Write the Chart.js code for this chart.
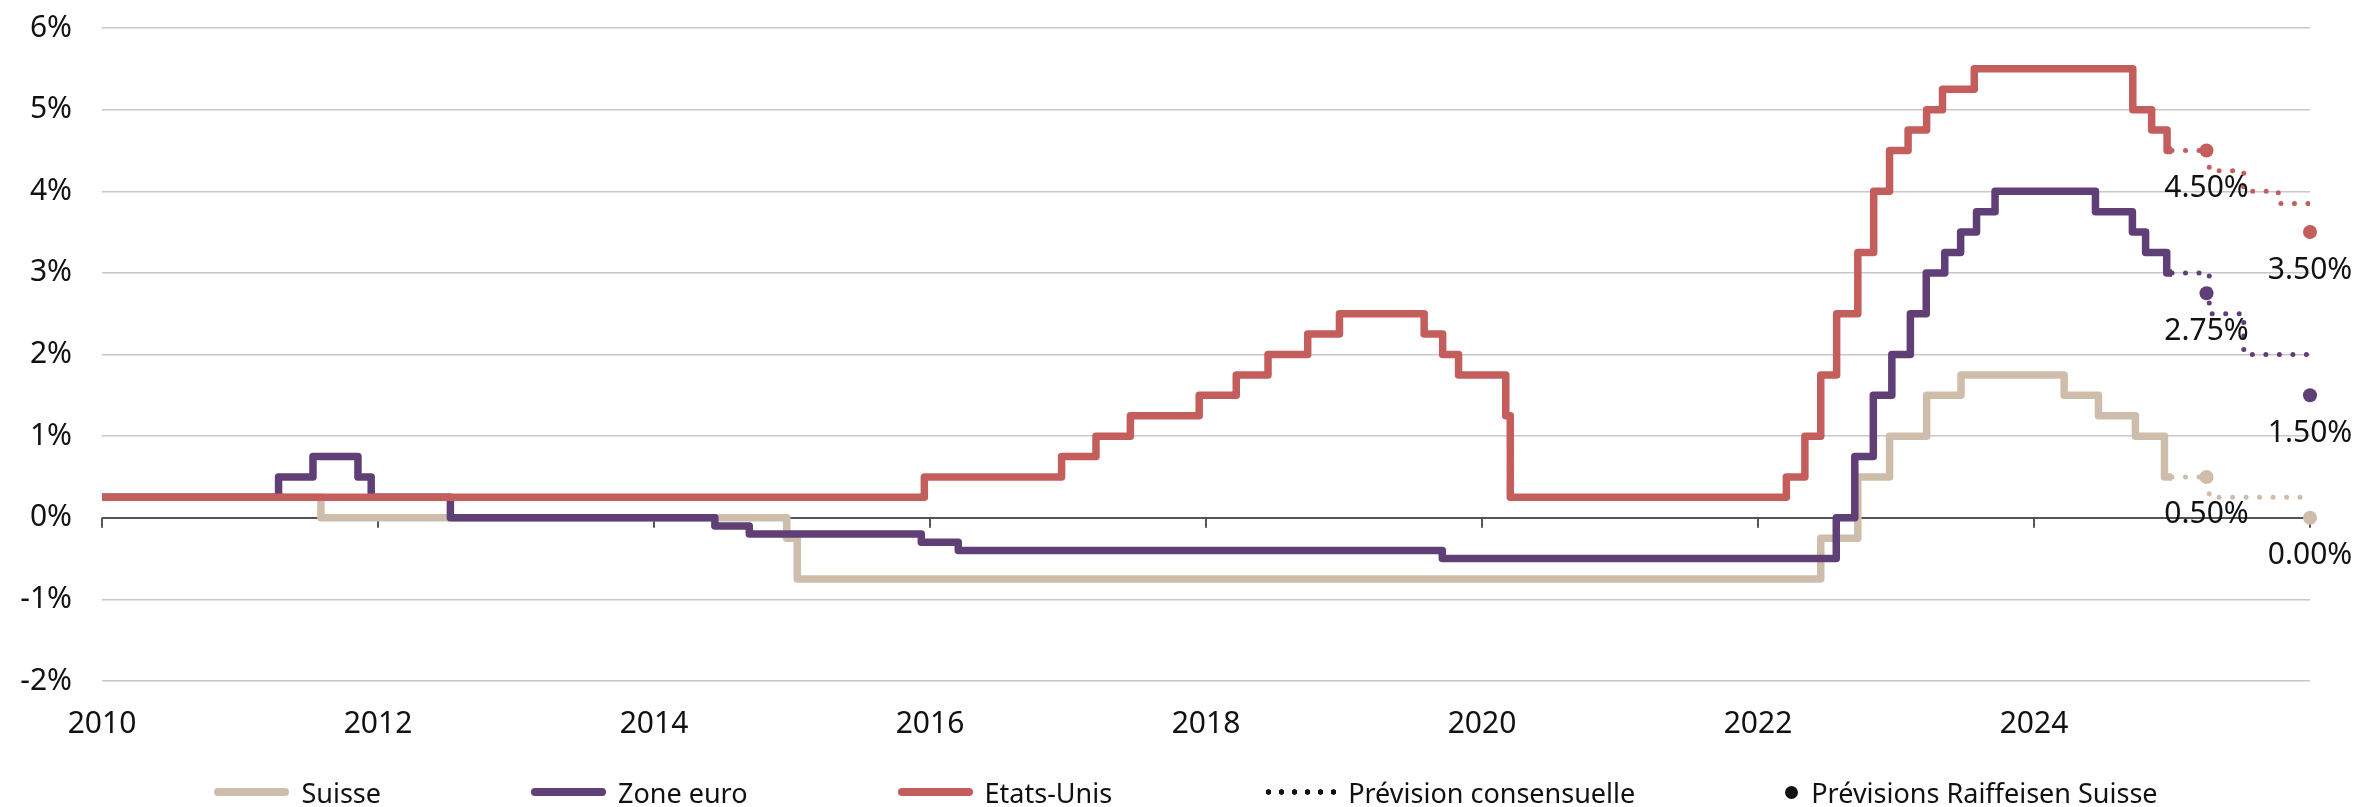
<!DOCTYPE html>
<html>
<head>
<meta charset="utf-8">
<script src="https://cdn.jsdelivr.net/npm/chart.js@4.4.1/dist/chart.umd.min.js"></script>
<style>
  html, body { margin: 0; padding: 0; background: #fff; }
  #wrap { position: relative; width: 2356px; height: 807px; }
  #legend {
    position: absolute; left: 0; top: 772px; width: 2356px; height: 40px;
    box-sizing: border-box; padding-left: 16px;
    display: flex; justify-content: center; align-items: center; gap: 150px;
    font-family: "Noto Sans"; font-size: 27px; color: #111;
  }
  .item { display: flex; align-items: center; white-space: nowrap; }
  .swatch { width: 75px; height: 8px; border-radius: 4px; margin-right: 12px; }
  .dots { width: 78px; height: 6px; margin-right: 8px;
          background: radial-gradient(circle, #111 2.5px, transparent 3px) 0 0 / 13px 6px repeat-x; }
  .dot { width: 13px; height: 13px; border-radius: 50%; background: #111; margin-right: 13px; }
</style>
</head>
<body>
<div id="wrap">
  <canvas id="chart" width="2356" height="807"></canvas>
  <div id="legend"></div>
</div>
<script>
// Series names + colours
const seriesNames = ["Suisse", "Zone euro", "Etats-Unis"]
const seriesColors = ["#cfbdac", "#5f3f75", "#c35e5c"]
const legendExtra = ["Prévision consensuelle", "Prévisions Raiffeisen Suisse"]

// Policy rates (step changes, value holds until next date)
const suisseDates = ["2010-01-01", "2011-08-03", "2014-12-18", "2015-01-15", "2022-06-16", "2022-09-22",
  "2022-12-15", "2023-03-23", "2023-06-22", "2024-03-21", "2024-06-20", "2024-09-26", "2024-12-12", "2025-01-01"]
const suisseRates = [0.25, 0.00, -0.25, -0.75, -0.25, 0.50, 1.00, 1.50, 1.75, 1.50, 1.25, 1.00, 0.50, 0.50]

const euroDates = ["2010-01-01", "2011-04-13", "2011-07-13", "2011-11-09", "2011-12-14", "2012-07-11",
  "2014-06-11", "2014-09-10", "2015-12-09", "2016-03-16", "2019-09-18", "2022-07-27", "2022-09-14",
  "2022-11-02", "2022-12-21", "2023-02-08", "2023-03-22", "2023-05-10", "2023-06-21", "2023-08-02",
  "2023-09-20", "2024-06-12", "2024-09-18", "2024-10-23", "2024-12-18", "2025-01-01"]
const euroRates = [0.25, 0.50, 0.75, 0.50, 0.25, 0.00, -0.10, -0.20, -0.30, -0.40, -0.50, 0.00, 0.75,
  1.50, 2.00, 2.50, 3.00, 3.25, 3.50, 3.75, 4.00, 3.75, 3.50, 3.25, 3.00, 3.00]

const usDates = ["2010-01-01", "2015-12-17", "2016-12-15", "2017-03-16", "2017-06-15", "2017-12-14",
  "2018-03-22", "2018-06-14", "2018-09-27", "2018-12-20", "2019-08-01", "2019-09-19", "2019-10-31",
  "2020-03-04", "2020-03-16", "2022-03-17", "2022-05-05", "2022-06-16", "2022-07-28", "2022-09-22",
  "2022-11-03", "2022-12-15", "2023-02-02", "2023-03-23", "2023-05-04", "2023-07-27", "2024-09-19",
  "2024-11-08", "2024-12-19", "2025-01-01"]
const usRates = [0.25, 0.50, 0.75, 1.00, 1.25, 1.50, 1.75, 2.00, 2.25, 2.50, 2.25, 2.00, 1.75,
  1.25, 0.25, 0.50, 1.00, 1.75, 2.50, 3.25, 4.00, 4.50, 4.75, 5.00, 5.25, 5.50, 5.00, 4.75, 4.50, 4.50]

// Consensus forecasts (decimal years)
const suisseConsYears = [2025.0, 2025.27, 2026.0]
const suisseCons = [0.50, 0.25, 0.25]
const euroConsYears = [2025.0, 2025.27, 2025.52, 2026.0]
const euroCons = [3.00, 2.50, 2.00, 2.00]
const usConsYears = [2025.0, 2025.27, 2025.52, 2025.77, 2026.0]
const usCons = [4.50, 4.25, 4.00, 3.85, 3.85]

// Raiffeisen forecasts
const raifYears = [2025.25, 2026.0]
const suisseRaif = [0.50, 0.00]
const euroRaif = [2.75, 1.50]
const usRaif = [4.50, 3.50]

// Axis ticks
const yearTicks = [2010, 2012, 2014, 2016, 2018, 2020, 2022, 2024]

const toYear = d => {
  const t = new Date(d + "T00:00:00Z")
  const y = t.getUTCFullYear()
  const start = Date.UTC(y, 0, 1), end = Date.UTC(y + 1, 0, 1)
  return y + (t - start) / (end - start)
}
const pts = (xs, ys) => xs.map((x, i) => ({ x: typeof x === "number" ? x : toYear(x), y: ys[i] }))

const histLine = (i, data, order) => ({
  label: seriesNames[i], data, order,
  borderColor: seriesColors[i], borderWidth: 7.5, stepped: true,
  borderJoinStyle: "round", pointRadius: 0
})
const consLine = (i, data) => ({
  label: seriesNames[i] + " consensus", data, order: 1,
  borderColor: seriesColors[i], borderWidth: 5, stepped: true,
  borderDash: [0, 13.5], borderCapStyle: "round", pointRadius: 0
})
const raifPoints = (i, data) => ({
  label: seriesNames[i] + " Raiffeisen", data, order: 0, isForecast: true,
  showLine: false, pointRadius: 7, pointBackgroundColor: seriesColors[i],
  pointBorderWidth: 0, clip: false
})

// Tick marks on the 0% axis line
const zeroAxisTicks = {
  id: "zeroAxisTicks",
  beforeDatasetsDraw(chart) {
    const { ctx, scales: { x, y } } = chart
    const y0 = y.getPixelForValue(0)
    ctx.save()
    ctx.strokeStyle = "#555"
    ctx.lineWidth = 2
    x.ticks.forEach(t => {
      const px = x.getPixelForValue(t.value)
      ctx.beginPath()
      ctx.moveTo(px, y0)
      ctx.lineTo(px, y0 + 10)
      ctx.stroke()
    })
    ctx.restore()
  }
}

// Value labels under the Raiffeisen dots
const forecastLabels = {
  id: "forecastLabels",
  afterDatasetsDraw(chart) {
    const { ctx } = chart
    ctx.save()
    ctx.font = '30px "Noto Sans"'
    ctx.fillStyle = "#111"
    ctx.textAlign = "center"
    ctx.textBaseline = "middle"
    chart.data.datasets.forEach((ds, i) => {
      if (!ds.isForecast) return
      chart.getDatasetMeta(i).data.forEach((pt, j) => {
        ctx.fillText(ds.data[j].y.toFixed(2) + "%", pt.x, pt.y + 38)
      })
    })
    ctx.restore()
  }
}

Chart.defaults.font.family = '"Noto Sans"'
Chart.defaults.color = "#111"

new Chart(document.getElementById("chart"), {
  type: "line",
  data: {
    datasets: [
      histLine(0, pts(suisseDates, suisseRates), 4),
      histLine(1, pts(euroDates, euroRates), 3),
      histLine(2, pts(usDates, usRates), 2),
      consLine(0, pts(suisseConsYears, suisseCons)),
      consLine(1, pts(euroConsYears, euroCons)),
      consLine(2, pts(usConsYears, usCons)),
      raifPoints(0, pts(raifYears, suisseRaif)),
      raifPoints(1, pts(raifYears, euroRaif)),
      raifPoints(2, pts(raifYears, usRaif))
    ]
  },
  options: {
    responsive: false,
    animation: false,
    layout: { padding: { top: 28, right: 46, bottom: 40, left: 0 } },
    plugins: { legend: { display: false }, tooltip: { enabled: false } },
    scales: {
      x: {
        type: "linear", min: 2010, max: 2026,
        grid: { display: false, drawTicks: false },
        border: { display: false },
        afterBuildTicks: s => { s.ticks = yearTicks.concat([2026]).map(v => ({ value: v })) },
        ticks: {
          padding: 25, autoSkip: false, maxRotation: 0,
          font: { size: 30 },
          callback: v => yearTicks.includes(v) ? String(v) : ""
        }
      },
      y: {
        min: -2, max: 6,
        afterFit: s => { s.width = 102; s.paddingTop = 0; s.paddingBottom = 0 },
        border: { display: false },
        grid: {
          drawTicks: false,
          color: c => c.tick.value === 0 ? "#555" : "#c8c8c8",
          lineWidth: c => c.tick.value === 0 ? 2 : 1.5
        },
        ticks: { stepSize: 1, padding: 30, font: { size: 30 }, callback: v => v + "%" }
      }
    }
  },
  plugins: [zeroAxisTicks, forecastLabels]
})

// Legend
const legend = document.getElementById("legend")
const addItem = (markClass, color, text) => {
  const item = document.createElement("div")
  item.className = "item"
  const mark = document.createElement("span")
  mark.className = markClass
  if (color) mark.style.background = color
  item.appendChild(mark)
  item.appendChild(document.createTextNode(text))
  legend.appendChild(item)
}
seriesNames.forEach((n, i) => addItem("swatch", seriesColors[i], n))
addItem("dots", null, legendExtra[0])
addItem("dot", null, legendExtra[1])
</script>
</body>
</html>
